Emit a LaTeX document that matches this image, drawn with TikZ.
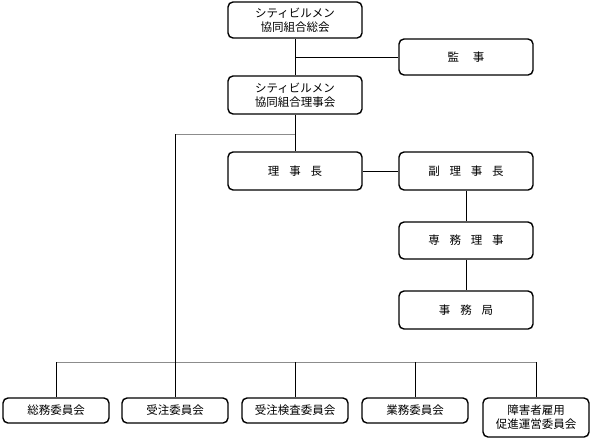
\documentclass[tikz,border=0pt]{standalone}
\usepackage{fontspec}
\newfontfamily\jp{Noto Sans CJK JP}
\begin{document}
\begin{tikzpicture}[x=1pt,y=-1pt,
  box/.style={draw=black,line width=1.4pt,rounded corners=5pt,fill=white,
    minimum width=134pt,minimum height=37pt,inner sep=0pt,align=center,
    font=\jp\fontsize{11.5}{14}\selectfont},
  sbox/.style={box,minimum width=106pt,minimum height=25pt},
  conn/.style={draw=black,line width=0.8pt},
  gconn/.style={draw=gray!90,line width=0.8pt}]
\useasboundingbox (0,0) rectangle (593,440);
% nodes
\node[box,minimum height=36pt] (soukai) at (295,20) {シティビルメン\\協同組合総会};
\node[box,minimum height=36pt] (kanji) at (466,57) {監\hspace{1.2em}事};
\node[box,minimum height=38pt] (rijikai) at (295,95) {シティビルメン\\協同組合理事会};
\node[box,minimum height=38pt] (rijichou) at (295,171) {理\hspace{0.85em}事\hspace{0.85em}長};
\node[box,minimum height=38pt] (fuku) at (466,171) {副\hspace{0.85em}理\hspace{0.85em}事\hspace{0.85em}長};
\node[box,minimum height=37pt] (senmu) at (466,240.5) {専\hspace{0.85em}務\hspace{0.85em}理\hspace{0.85em}事};
\node[box,minimum height=38pt] (jimu) at (466,310) {事\hspace{0.85em}務\hspace{0.85em}局};
\node[sbox] (c1) at (56,410.5) {総務委員会};
\node[sbox] (c2) at (175,410.5) {受注委員会};
\node[sbox] (c3) at (295,410.5) {受注検査委員会};
\node[sbox] (c4) at (415,410.5) {業務委員会};
\node[sbox,minimum height=39pt] (c5) at (536,417.5) {障害者雇用\\促進運営委員会};
% coordinates
\coordinate (kj) at (295,57);
\coordinate (br) at (295,134);
\coordinate (bl) at (175,134);
\coordinate (b1) at (56,362);
\coordinate (b3) at (295,362);
\coordinate (b4) at (415,362);
\coordinate (b5) at (536,362);
% connectors
\draw[conn] (soukai.south) -- (rijikai.north);
\draw[conn] (kj) -- (kanji.west);
\draw[conn] (rijikai.south) -- (rijichou.north);
\draw[gconn] (br) -- (bl);
\draw[gconn] (b1) -- (b5);
\draw[conn] (bl) -- (c2.north);
\draw[conn] (b1) -- (c1.north);
\draw[conn] (b3) -- (c3.north);
\draw[conn] (b4) -- (c4.north);
\draw[conn] (b5) -- (c5.north);
\draw[conn] (rijichou.east) -- (fuku.west);
\draw[conn] (fuku.south) -- (senmu.north);
\draw[conn] (senmu.south) -- (jimu.north);
\end{tikzpicture}
\end{document}
